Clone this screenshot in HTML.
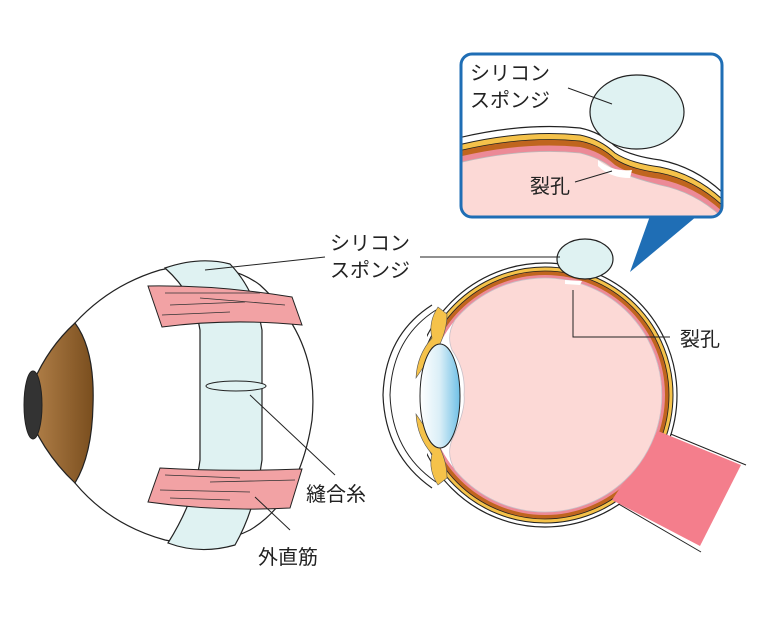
<!DOCTYPE html>
<html><head><meta charset="utf-8"><style>
html,body{margin:0;padding:0;background:#fff;}
svg{display:block;}
text{font-family:"Liberation Sans","Noto Sans CJK JP",sans-serif;font-size:20px;fill:#222;}
</style></head><body>
<svg width="767" height="621" viewBox="0 0 767 621" xmlns="http://www.w3.org/2000/svg">
<defs>
<linearGradient id="iris" x1="0" x2="1"><stop offset="0" stop-color="#b8864e"/><stop offset="1" stop-color="#7a4e1e"/></linearGradient>
<linearGradient id="lens" x1="0" x2="1"><stop offset="0" stop-color="#ffffff"/><stop offset="0.5" stop-color="#d9eef7"/><stop offset="1" stop-color="#6fc0e6"/></linearGradient>
<clipPath id="inset"><rect x="461" y="54" width="261" height="163" rx="11"/></clipPath>
<clipPath id="back"><rect x="427" y="200" width="320" height="400"/></clipPath>
</defs>

<!-- LEFT EYE -->
<path d="M75,323 Q110,285 160,270 L175,267 Q230,262 260,285 Q320,340 312,420 Q300,500 250,530 Q210,550 165,540 Q110,525 75,483 Z" fill="#fff" stroke="#222" stroke-width="1.2"/>
<path d="M165,268 Q200,256 230,264 Q255,290 262,330 L262,460 Q255,510 235,545 Q200,555 168,543 Q195,500 200,460 L200,330 Q195,295 165,268 Z" fill="#dff2f2" stroke="#222" stroke-width="1.2"/>
<path d="M75,323 Q95,350 93,405 Q92,455 75,483 Q40,450 25,405 Q40,355 75,323 Z" fill="url(#iris)" stroke="#222" stroke-width="1.2"/>
<ellipse cx="33" cy="405" rx="9" ry="34" fill="#333" stroke="#222"/>
<path d="M148,286 Q220,285 292,297 L302,325 Q230,318 162,327 Z" fill="#f2a2a4" stroke="#222" stroke-width="1"/>
<path d="M165,293 L260,293 M170,305 L245,302 M162,315 L230,312 M200,298 L285,305" stroke="#333" stroke-width="0.8"/>
<path d="M160,468 Q230,472 302,469 L290,508 Q220,512 148,502 Z" fill="#f2a2a4" stroke="#222" stroke-width="1"/>
<path d="M165,475 L240,478 M160,490 L250,492 M170,498 L230,500 M210,482 L295,480" stroke="#333" stroke-width="0.8"/>
<ellipse cx="236" cy="386" rx="30" ry="5" fill="#dff2f2" stroke="#222" stroke-width="1"/>
<line x1="205" y1="270" x2="325" y2="257" stroke="#222" stroke-width="1"/>
<line x1="250" y1="395" x2="335" y2="475" stroke="#222" stroke-width="1"/>
<line x1="255" y1="497" x2="290" y2="530" stroke="#222" stroke-width="1"/>
<text x="330" y="250">シリコン</text>
<text x="330" y="277">スポンジ</text>
<text x="306" y="501">縫合糸</text>
<text x="258" y="564">外直筋</text>

<!-- RIGHT EYE -->
<polygon points="610,499 656,428 746,465 701,552" fill="#fff"/>
<line x1="656" y1="428" x2="746" y2="465" stroke="#222" stroke-width="1"/>
<line x1="610" y1="499" x2="701" y2="552" stroke="#222" stroke-width="1"/>
<g clip-path="url(#back)">
<circle cx="545" cy="395" r="132" fill="#fff" stroke="#222" stroke-width="1.2"/>
<circle cx="545" cy="395" r="128" fill="#f5c24a" stroke="#222" stroke-width="1"/>
<circle cx="545" cy="395" r="124" fill="#c0651e" stroke="#222" stroke-width="0.8"/>
<circle cx="545" cy="395" r="120" fill="#ec8a97"/>
<circle cx="545" cy="395" r="117" fill="#fff"/>
</g>
<path d="M612,500 L658,431 L741,465 L700,546 Z" fill="#f47e8c"/>
<!-- vitreous -->
<path d="M455,320 A117,117 0 1 1 455,470 Q446,455 452,440 Q466,410 464,395 Q466,370 452,350 Q446,335 455,320 Z" fill="#fcd9d6" stroke="#c8c0c8" stroke-width="0.8"/>
<!-- cornea -->
<path d="M432,305 Q385,335 383,395 Q385,455 432,488" fill="none" stroke="#222" stroke-width="1.2"/>
<path d="M436,310 Q392,338 390,395 Q392,452 436,482" fill="none" stroke="#222" stroke-width="1"/>
<path d="M438,307 Q428,322 432,338 Q417,355 416,378 Q428,360 439,346 Q447,330 447,314 Z" fill="#f5c24a" stroke="#555" stroke-width="0.6"/>
<path d="M438,485 Q428,470 432,454 Q417,437 416,414 Q428,432 439,446 Q447,462 447,478 Z" fill="#f5c24a" stroke="#555" stroke-width="0.6"/>
<ellipse cx="440" cy="396" rx="20" ry="52" fill="url(#lens)" stroke="#222" stroke-width="1"/>
<!-- sponge -->
<ellipse cx="585" cy="259" rx="28" ry="20" fill="#dff2f2" stroke="#222" stroke-width="1.2"/>
<path d="M565,280 L582,281 L580,285 L565,284 Z" fill="#fff"/>
<line x1="420" y1="257" x2="560" y2="257" stroke="#222" stroke-width="1"/>
<polyline points="573,290 573,337 670,337" fill="none" stroke="#222" stroke-width="1"/>
<text x="680" y="346">裂孔</text>

<!-- INSET -->
<polygon points="650,216 697,216 630,272" fill="#1f6eb5"/>
<rect x="461" y="54" width="261" height="163" rx="11" fill="#fff"/>
<g clip-path="url(#inset)">
<path d="M450,140 Q520,122 580,128 Q600,132 615,146 Q630,156 660,160 Q700,168 730,200 L730,260 L450,260 Z" fill="#fff" stroke="#222" stroke-width="1.2"/>
<path d="M450,147 Q520,129 580,135 Q600,139 615,153 Q630,163 660,167 Q700,175 730,207 L730,260 L450,260 Z" fill="#f5c24a" stroke="#222" stroke-width="1"/>
<path d="M450,153 Q520,135 580,141 Q600,145 615,159 Q630,169 660,173 Q700,181 730,213 L730,260 L450,260 Z" fill="#c0651e" stroke="#222" stroke-width="0.8"/>
<path d="M450,159 Q520,141 580,147 Q600,151 615,165 Q630,175 660,179 Q700,187 730,219 L730,260 L450,260 Z" fill="#ec8a97"/>
<path d="M450,165 Q520,147 580,153 Q600,158 612,168 Q625,176 660,185 Q700,193 730,225 L730,260 L450,260 Z" fill="#fcd9d6" stroke="#bbb" stroke-width="0.8"/>
<path d="M598,160 Q612,172 632,170 L630,178 Q610,178 598,166 Z" fill="#fff"/>
<ellipse cx="637" cy="112" rx="47" ry="37" fill="#dff2f2" stroke="#222" stroke-width="1.2"/>
<line x1="568" y1="88" x2="612" y2="104" stroke="#222" stroke-width="1"/>
<line x1="575" y1="182" x2="612" y2="171" stroke="#222" stroke-width="1"/>
<text x="470" y="80">シリコン</text>
<text x="470" y="107">スポンジ</text>
<text x="530" y="193">裂孔</text>
</g>
<rect x="461" y="54" width="261" height="163" rx="11" fill="none" stroke="#1f6eb5" stroke-width="3"/>
</svg>
</body></html>
